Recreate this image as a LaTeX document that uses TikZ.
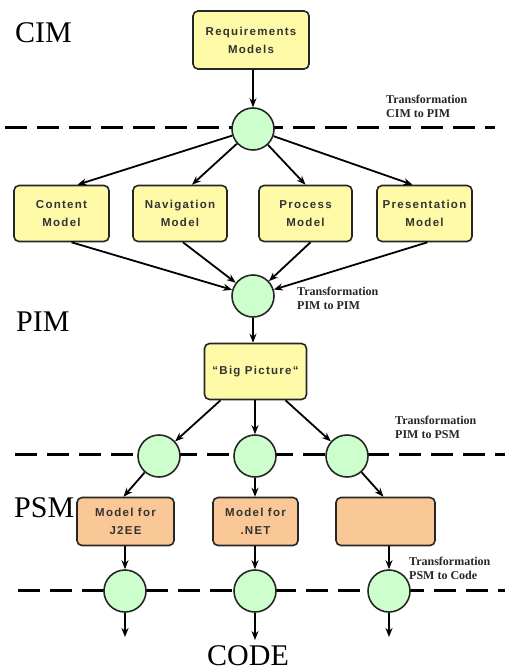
\documentclass[tikz,border=0pt]{standalone}
\usepackage{fontspec}
\setmainfont{Liberation Serif}
\newfontfamily\boxfont[LetterSpace=11]{Liberation Sans}
\usetikzlibrary{arrows.meta,calc}
\definecolor{boxyellow}{RGB}{255,250,168}
\definecolor{circgreen}{RGB}{204,255,204}
\definecolor{psmorange}{RGB}{250,200,150}
\begin{document}
\begin{tikzpicture}[x=1pt,y=-1pt,
  model/.style={draw=black!85, line width=1.6pt, rounded corners=5pt, fill=boxyellow,
    font=\boxfont\bfseries\fontsize{11.5}{18}\selectfont, text=black!80, align=center, inner sep=0pt},
  psm/.style={model, fill=psmorange, minimum height=48pt},
  trans/.style={circle, draw=black!85, line width=1.6pt, fill=circgreen, minimum size=42pt, inner sep=0pt},
  arr/.style={-{Stealth[length=9pt,width=7pt]}, line width=1.8pt},
  sepline/.style={line width=3pt, dash pattern=on 22pt off 10pt},
  tlabel/.style={font=\bfseries\fontsize{12}{14}\selectfont, text=black!85, align=left, anchor=north west, inner sep=0pt},
  level/.style={font=\fontsize{30}{30}\selectfont, anchor=base west, inner sep=0pt}]
\useasboundingbox[fill=white] (0,0) rectangle (505,671);

% separator lines
\draw[sepline] (5,128) -- (495,128);
\draw[sepline] (15,454) -- (505,454);
\draw[sepline] (18,590) -- (505,590);

% level labels
\node[level] (cim) at (15,43) {CIM};
\node[level] (pim) at (16,331) {PIM};
\node[level] (psmlab) at (14,517) {PSM};
\node[level] (code) at (207,665) {CODE};

% nodes
\node[model, minimum width=116pt, minimum height=58pt] (req) at (251,40) {Requirements\\Models};
\node[trans] (c1) at (253,129) {};
\node[model, minimum width=95pt, minimum height=56pt] (content) at (61.5,213.5) {Content\\Model};
\node[model, minimum width=94pt, minimum height=56pt] (nav) at (180,213.5) {Navigation\\Model};
\node[model, minimum width=93pt, minimum height=56pt] (proc) at (305.5,213.5) {Process\\Model};
\node[model, minimum width=95pt, minimum height=56pt] (pres) at (424.5,213.5) {Presentation\\Model};
\node[trans] (c2) at (253,296) {};
\node[model, minimum width=102pt, minimum height=56pt] (big) at (255.5,371.5) {“Big Picture“};
\node[trans] (t1) at (159,456) {};
\node[trans] (t2) at (255,456) {};
\node[trans] (t3) at (347,456) {};
\node[psm, minimum width=97pt] (p1) at (125.5,521.5) {Model for\\J2EE};
\node[psm, minimum width=85pt] (p2) at (255.5,521.5) {Model for\\.NET};
\node[psm, minimum width=99pt] (p3) at (385.5,521.5) {};
\node[trans] (d1) at (125,591) {};
\node[trans] (d2) at (255,591) {};
\node[trans] (d3) at (389,591) {};
\coordinate (e1) at (125,637);
\coordinate (e2) at (255,640);
\coordinate (e3) at (389,637);

% transformation labels
\node[tlabel] (l1) at (386,95) {Transformation\\CIM to PIM};
\node[tlabel] (l2) at (297,287) {Transformation\\PIM to PIM};
\node[tlabel] (l3) at (395,416) {Transformation\\PIM to PSM};
\node[tlabel] (l4) at (409,557) {Transformation\\PSM to Code};

% connectors
\draw[arr] (c1 |- req.south) -- (c1);
\draw[arr] (c1) -- ($(content.north)+(16,0)$);
\draw[arr] (c1) -- ($(nav.north)+(12,0)$);
\draw[arr] (c1) -- (proc.north);
\draw[arr] (c1) -- ($(pres.north)+(-12,0)$);
\draw[arr] ($(content.south)+(10,0)$) -- (c2);
\draw[arr] ($(nav.south)+(3,0)$) -- (c2);
\draw[arr] ($(proc.south)+(5,0)$) -- (c2);
\draw[arr] ($(pres.south)+(3,0)$) -- (c2);
\draw[arr] (c2) -- (c2 |- big.north);
\draw[arr] ($(big.south)+(-35,0)$) -- (t1);
\draw[arr] (t2 |- big.south) -- (t2);
\draw[arr] ($(big.south)+(30,0)$) -- (t3);
\draw[arr] (t1) -- ($(p1.north)+(-2,0)$);
\draw[arr] (t2) -- (t2 |- p2.north);
\draw[arr] (t3) -- ($(p3.north)+(-2,0)$);
\draw[arr] (d1 |- p1.south) -- (d1);
\draw[arr] (d2 |- p2.south) -- (d2);
\draw[arr] (d3 |- p3.south) -- (d3);
\draw[arr] (d1) -- (e1);
\draw[arr] (d2) -- (e2);
\draw[arr] (d3) -- (e3);
\end{tikzpicture}
\end{document}
